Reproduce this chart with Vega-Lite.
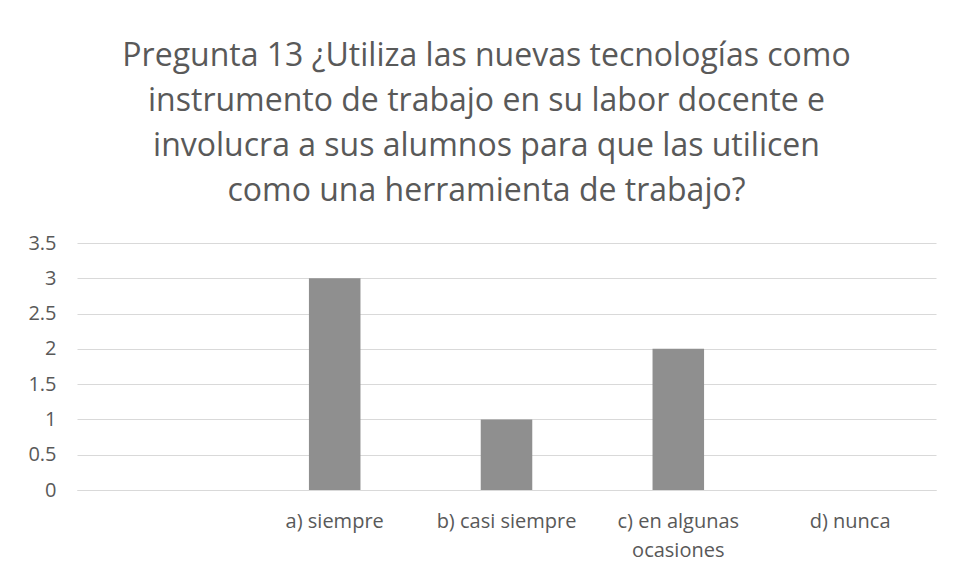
{
  "$schema": "https://vega.github.io/schema/vega-lite/v6.json",
  "width": 859,
  "height": 247,
  "autosize": {"type": "none"},
  "padding": {"left": 77, "top": 243, "right": 31, "bottom": 90},
  "background": "white",
  "title": {
    "text": ["Pregunta 13 ¿Utiliza las nuevas tecnologías como", "instrumento de trabajo en su labor docente e", "involucra a sus alumnos para que las utilicen", "como una herramienta de trabajo?"],
    "font": "Open Sans",
    "fontSize": 32,
    "fontWeight": "normal",
    "color": "#595959",
    "lineHeight": 45,
    "anchor": "middle",
    "dx": -20,
    "offset": 25
  },
  "data": {
    "values": [
      {"respuesta": "a) siempre", "cantidad": 3},
      {"respuesta": "b) casi siempre", "cantidad": 1},
      {"respuesta": "c) en algunas ocasiones", "cantidad": 2},
      {"respuesta": "d) nunca", "cantidad": 0}
    ]
  },
  "mark": {"type": "bar", "color": "#8f8f8f"},
  "encoding": {
    "x": {
      "field": "respuesta",
      "type": "nominal",
      "sort": null,
      "scale": {"domain": [" ", "a) siempre", "b) casi siempre", "c) en algunas ocasiones", "d) nunca"], "paddingInner": 0.7, "paddingOuter": 0.35},
      "axis": {
        "title": null,
        "labelAngle": 0,
        "labelFont": "Open Sans",
        "labelFontSize": 20,
        "labelColor": "#595959",
        "labelPadding": 21,
        "labelLineHeight": 29,
        "labelExpr": "datum.label == 'c) en algunas ocasiones' ? ['c) en algunas', 'ocasiones'] : datum.label",
        "ticks": false,
        "domainColor": "#d9d9d9",
        "grid": false
      }
    },
    "y": {
      "field": "cantidad",
      "type": "quantitative",
      "scale": {"domain": [0, 3.5], "nice": false},
      "axis": {
        "title": null,
        "values": [0, 0.5, 1, 1.5, 2, 2.5, 3, 3.5],
        "format": "~g",
        "labelFont": "Open Sans",
        "labelFontSize": 20,
        "labelColor": "#595959",
        "labelPadding": 21,
        "ticks": false,
        "domain": false,
        "gridColor": "#d9d9d9",
        "gridWidth": 1
      }
    }
  },
  "config": {"view": {"stroke": null}}
}
